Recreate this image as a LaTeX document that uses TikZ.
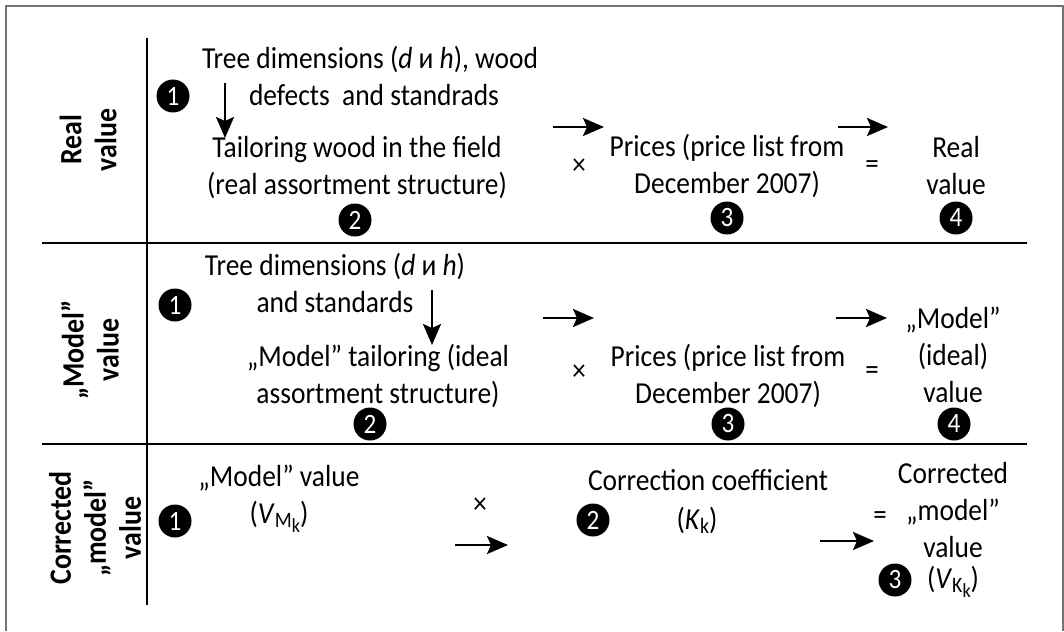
\documentclass[tikz,border=0pt]{standalone}
\usepackage{fontspec}
\setmainfont{Carlito}[FakeStretch=0.9]
\usetikzlibrary{arrows.meta}
\newcommand\subA[1]{\raisebox{-4pt}{\fontsize{22}{22}\selectfont #1}}
\newcommand\subB[1]{\raisebox{-5pt}{\fontsize{20}{20}\selectfont #1}}
\begin{document}
\begin{tikzpicture}[x=1pt,y=-1pt,
  txt/.style={font=\fontsize{30.5}{37}\selectfont, align=center, inner sep=0pt},
  lbl/.style={font=\fontsize{31}{35}\selectfont\bfseries, align=center, inner sep=0pt, rotate=90},
  badge/.style={circle, fill=black, text=white, minimum size=33pt, inner sep=0pt, font=\fontsize{28}{28}\selectfont},
  arr/.style={line width=2.4pt, -{Stealth[length=21pt,width=18pt,inset=4pt]}},
  op/.style={font=\fontsize{30}{30}\selectfont, inner sep=0pt},
  rulel/.style={line width=2.5pt},
  framel/.style={draw=black!55, line width=2pt}]
\useasboundingbox (0,0) rectangle (1064,631);
\draw[framel] (6,631) -- (6,6) -- (1063,6) -- (1063,631);
% grid
\coordinate (vt) at (147,38);
\coordinate (vb) at (147,605);
\coordinate (h1a) at (42,243);
\coordinate (h1b) at (1027,243);
\coordinate (h2a) at (42,444);
\coordinate (h2b) at (1027,444);
\draw[rulel] (vt) -- (vb);
\draw[rulel] (h1a) -- (h1b);
\draw[rulel] (h2a) -- (h2b);
% row labels
\node[lbl] (L1) at (88,140) {Real\\value};
\node[lbl] (L2) at (90,350) {„Model”\\value};
\node[lbl] (L3) at (95,528) {Corrected\\„model”\\value};
% ---- row 1
\node[txt] (r1a) at (370,76) {Tree dimensions (\textit{d} и \textit{h}), wood\\\hspace*{8pt}defects\ \ and standrads};
\node[badge] (r1n1) at (173,96) {1};
\coordinate (r1d1) at (225,83);
\coordinate (r1d2) at (225,138);
\draw[arr] (r1d1) -- (r1d2);
\node[txt] (r1b) at (357,168) {Tailoring wood in the field\\(real assortment structure)};
\node[badge] (r1n2) at (355,220) {2};
\coordinate (r1a1) at (553,127);
\coordinate (r1a2) at (604,127);
\draw[arr] (r1a1) -- (r1a2);
\node[op] (r1x) at (579,167) {×};
\node[txt] (r1c) at (727,166) {Prices (price list from\\December 2007)};
\node[badge] (r1n3) at (727,218) {3};
\coordinate (r1e1) at (838,127);
\coordinate (r1e2) at (888,127);
\draw[arr] (r1e1) -- (r1e2);
\node[op] (r1eq) at (872,167) {=};
\node[txt] (r1d) at (956,166) {Real\\value};
\node[badge] (r1n4) at (956,218) {4};
% ---- row 2
\node[txt] (r2a) at (335,283) {Tree dimensions (\textit{d} и \textit{h})\\and standards};
\node[badge] (r2n1) at (175,305) {1};
\coordinate (r2d1) at (432,290);
\coordinate (r2d2) at (432,345);
\draw[arr] (r2d1) -- (r2d2);
\node[txt] (r2b) at (378,376) {„Model” tailoring (ideal\\assortment structure)};
\node[badge] (r2n2) at (370,424) {2};
\coordinate (r2a1) at (543,318);
\coordinate (r2a2) at (594,318);
\draw[arr] (r2a1) -- (r2a2);
\node[op] (r2x) at (579,373) {×};
\node[txt] (r2c) at (728,376) {Prices (price list from\\December 2007)};
\node[badge] (r2n3) at (728,424) {3};
\coordinate (r2e1) at (836,318);
\coordinate (r2e2) at (887,318);
\draw[arr] (r2e1) -- (r2e2);
\node[op] (r2eq) at (872,373) {=};
\node[txt] (r2d) at (953,355) {„Model”\\(ideal)\\value};
\node[badge] (r2n4) at (954,424) {4};
% ---- row 3
\node[txt] (r3a) at (279,499) {„Model” value\\(\textit{V}\subA{M\subB{k}})};
\node[badge] (r3n1) at (175,521) {1};
\node[op] (r3x) at (480,506) {×};
\coordinate (r3a1) at (455,545);
\coordinate (r3a2) at (508,545);
\draw[arr] (r3a1) -- (r3a2);
\node[txt] (r3b) at (708,480) {Correction coefficient};
\node[badge] (r3n2) at (593,520) {2};
\node[txt] (r3k) at (697,520) {(\textit{K}\subA{k})};
\coordinate (r3e1) at (820,541);
\coordinate (r3e2) at (874,541);
\draw[arr] (r3e1) -- (r3e2);
\node[op] (r3eq) at (880,518) {=};
\node[txt] (r3c) at (953,510) {Corrected\\„model”\\value};
\node[badge] (r3n3) at (895,580) {3};
\node[txt] (r3v) at (953,582) {(\textit{V}\subA{K\subB{k}})};
\end{tikzpicture}
\end{document}
